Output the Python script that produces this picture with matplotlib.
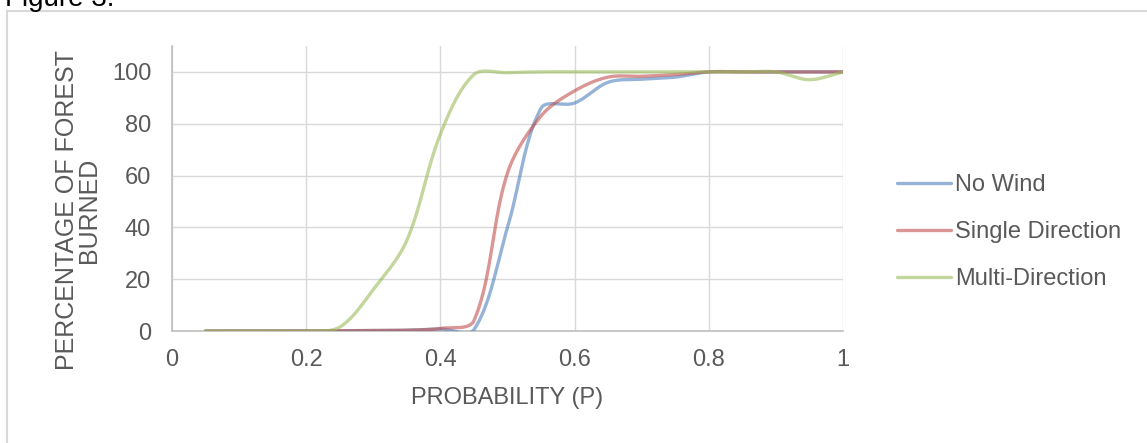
import numpy as np
import matplotlib
matplotlib.use("Agg")
import matplotlib.pyplot as plt
from matplotlib.lines import Line2D

plt.rcParams['font.family'] = ['Liberation Sans', 'DejaVu Sans']

# data
prob = [0.05, 0.10, 0.15, 0.20, 0.25, 0.30, 0.35, 0.40, 0.45, 0.50,
        0.55, 0.60, 0.65, 0.70, 0.75, 0.80, 0.85, 0.90, 0.95, 1.00]
no_wind = [0, 0, 0, 0, 0.1, 0.2, 0.3, 0.8, 0.5, 40,
           86, 88, 96, 97.2, 98, 100, 100, 100, 100, 100]
single_dir = [0, 0, 0, 0, 0.1, 0.2, 0.3, 1.0, 4, 61,
              83, 92.7, 98, 98.3, 99, 100, 100, 100, 100, 100]
multi_dir = [0, 0, 0, 0, 1.5, 16, 35, 76, 99, 99.7,
             100, 100, 100, 100, 100, 100, 100, 100, 97, 100]
series_names = ['No Wind', 'Single Direction', 'Multi-Direction']
series_colors = ['#4F81BD', '#C0504D', '#9BBB59']
x_ticks = [0, 0.2, 0.4, 0.6, 0.8, 1.0]
x_tick_labels = ['0', '0.2', '0.4', '0.6', '0.8', '1']
y_ticks = [0, 20, 40, 60, 80, 100]

TEXT = '#595959'
GRID = '#D9D9D9'


def smooth(ax, x, y, n=40):
    # Excel-like smoothed line: Bezier in screen space, control arms
    # weighted by neighbouring segment lengths
    p = ax.transData.transform(np.column_stack([x, y]).astype(float))
    ext = np.vstack([p[0], p, p[-1]])
    d = np.hypot(*np.diff(ext, axis=0).T)
    t = np.linspace(0, 1, n)[:, None]
    out = []
    for i in range(len(p) - 1):
        p0, p1, p2, p3 = ext[i], ext[i + 1], ext[i + 2], ext[i + 3]
        d01, d12, d23 = d[i], d[i + 1], d[i + 2]
        f1 = d12 / (d01 + d12) / 3 if d01 + d12 > 0 else 0
        f2 = d12 / (d12 + d23) / 3 if d12 + d23 > 0 else 0
        c1 = p1 + (p2 - p0) * f1
        c2 = p2 - (p3 - p1) * f2
        seg = ((1 - t) ** 3) * p1 + 3 * ((1 - t) ** 2) * t * c1 \
            + 3 * (1 - t) * t ** 2 * c2 + t ** 3 * p2
        out.append(seg if i == 0 else seg[1:])
    out = ax.transData.inverted().transform(np.vstack(out))
    return out[:, 0], out[:, 1]


fig = plt.figure(figsize=(11.47, 4.43), dpi=100)
ax = fig.add_axes([172 / 1147, 1 - 331 / 443, (843 - 172) / 1147, (331 - 46) / 443])
ax.set_xlim(0, 1)
ax.set_ylim(0, 110)

for vals, name, col in zip([no_wind, single_dir, multi_dir], series_names, series_colors):
    sx, sy = smooth(ax, prob, vals)
    ax.plot(sx, sy, color=col, alpha=0.6, lw=2.4, label=name,
            solid_capstyle='round', zorder=3)

ax.set_xticks(x_ticks)
ax.set_xticklabels(x_tick_labels)
ax.set_yticks(y_ticks)
ax.grid(True, color=GRID, lw=1.0, zorder=0)
ax.set_axisbelow(True)
for s in ['top', 'right']:
    ax.spines[s].set_visible(False)
for s in ['left', 'bottom']:
    ax.spines[s].set_color('#BFBFBF')
    ax.spines[s].set_linewidth(1.2)
ax.tick_params(length=0, labelsize=17, labelcolor=TEXT)
ax.tick_params(axis='x', pad=13)
ax.tick_params(axis='y', pad=15)

fig.text(507 / 1147, 1 - 398 / 443, 'PROBABILITY (P)', ha='center', va='center',
         fontsize=17, color=TEXT)
fig.text(78 / 1147, 1 - 210 / 443, 'PERCENTAGE OF FOREST\nBURNED', ha='center', va='center',
         rotation=90, fontsize=18, color=TEXT, linespacing=0.88, multialignment='center')

leg = ax.legend(loc='center left', bbox_to_anchor=(897 / 1147, 1 - 232 / 443),
                bbox_transform=fig.transFigure, frameon=False, fontsize=17,
                handlelength=2.3, handletextpad=0.17, labelspacing=1.05,
                borderaxespad=0, borderpad=0)
for t in leg.get_texts():
    t.set_color(TEXT)

# outer chart frame, partly cropped
fig.add_artist(Line2D([7 / 1147, 1], [1 - 11 / 443, 1 - 11 / 443], color=GRID, lw=1.5))
fig.add_artist(Line2D([7 / 1147, 7 / 1147], [0, 1 - 11 / 443], color=GRID, lw=1.5))
fig.text(5 / 1147, 1 - 6 / 443, 'Figure 3.', ha='left', va='baseline', fontsize=20, color='black')

fig.savefig('out.png', dpi=100)
